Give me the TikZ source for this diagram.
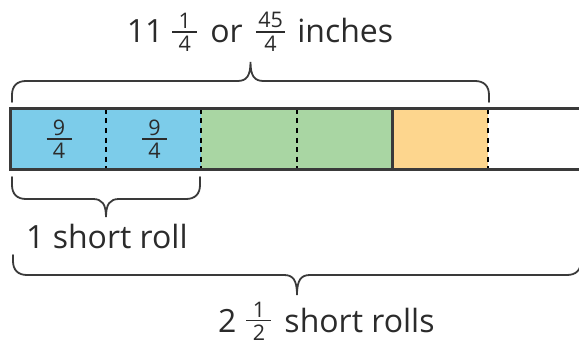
\documentclass[tikz,border=0pt]{standalone}
\usepackage{fontspec}
\setmainfont{Open Sans}
\newfontfamily\fracfont{Open Sans}
\definecolor{segblue}{HTML}{7CCCEA}
\definecolor{seggreen}{HTML}{A9D6A3}
\definecolor{segorange}{HTML}{FDD68E}
\definecolor{ink}{HTML}{2B2B2B}
\definecolor{lineink}{HTML}{3A3A3A}
\newdimen\frwd
\newbox\frnum
\newbox\frden
\newcommand\myfr[2]{\lower8.5pt\hbox{\fracfont\fontsize{21.5}{24}\selectfont
  \setbox\frnum\hbox{#1}\setbox\frden\hbox{#2}%
  \frwd=\wd\frnum
  \ifdim\wd\frden>\frwd \frwd=\wd\frden\fi
  \ifdim\frwd<20pt \frwd=20pt\fi
  \advance\frwd by 5pt
  \vbox{\hbox to\frwd{\hss\box\frnum\hss}\kern2.5pt\hrule height1.9pt\kern3.5pt\hbox to\frwd{\hss\box\frden\hss}}}}
\newcommand\mybrace[6]{%
  \pgfmathsetmacro\xt{(#1+#2)/2}%
  \draw[bracestyle] (#1,#3) -- (#1,{#4+#6*14}) .. controls (#1,{#4+#6*5}) and ({#1+5},#4) .. ({#1+14},#4)
    -- ({\xt-13},#4) .. controls ({\xt-4},#4) and (\xt,{#4-#6*5}) .. (\xt,#5)
    .. controls (\xt,{#4-#6*5}) and ({\xt+4},#4) .. ({\xt+13},#4)
    -- ({#2-14},#4) .. controls ({#2-5},#4) and (#2,{#4+#6*5}) .. (#2,{#4+#6*14}) -- (#2,#3);
}
\tikzset{
  barline/.style={draw=lineink, line width=3pt, line join=miter},
  dashline/.style={draw=black, line width=2.6pt, dash pattern=on 5pt off 4.5pt},
  bracestyle/.style={draw=lineink, line width=1.8pt, line cap=round},
  txt/.style={inner sep=0pt, text=ink, font=\fontsize{32}{38}\selectfont},
}
\begin{document}
\begin{tikzpicture}[x=1pt,y=-1pt]
\useasboundingbox (0,0) rectangle (579,345);
\clip (0,0) rectangle (579,345);
% bar segments
\fill[segblue] (10,109) rectangle (201,169);
\fill[seggreen] (201,109) rectangle (392,169);
\fill[segorange] (392,109) rectangle (488,169);
\foreach \x in {106,201,297,488} \draw[dashline] (\x,109) -- (\x,169);
\draw[barline] (600,109) -- (10,109) -- (10,169) -- (600,169);
\draw[barline] (392,109) -- (392,169);
% fractions in the bar
\node[txt] (f1) at (59,139) {\myfr{9}{4}};
\node[txt] (f2) at (154.5,139) {\myfr{9}{4}};
% braces
\mybrace{12}{489}{102}{81}{62}{1}
\mybrace{12}{200}{177}{199}{217}{-1}
\mybrace{13}{581}{255}{275}{295}{-1}
% labels
\node[txt, anchor=base] (toplabel) at (260,43) {11\hskip9pt\myfr{1}{4}\hskip13pt or\hskip13pt\myfr{45}{4}\hskip12pt inches};
\node[txt, anchor=base west] (onelabel) at (26,248) {1 short roll};
\node[txt, anchor=base west] (twolabel) at (218,332) {2\hskip10pt\myfr{1}{2}\hskip13pt short rolls};
\end{tikzpicture}
\end{document}
